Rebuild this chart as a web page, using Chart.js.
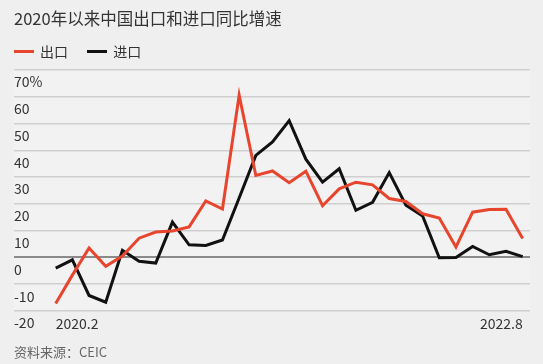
<!DOCTYPE html>
<html>
<head>
<meta charset="utf-8">
<script src="https://cdn.jsdelivr.net/npm/chart.js@4"></script>
<style>
  body { margin: 0; background: #efefef; font-family: "Noto Sans CJK SC", "Noto Sans", sans-serif; }
  #wrap { position: relative; width: 543px; height: 364px; overflow: hidden; }
  #title { position: absolute; left: 14px; top: 6px; font-size: 16.5px; color: #333; }
  #legend { position: absolute; left: 14px; top: 39px; font-size: 14px; color: #333; }
  #legend span { display: inline-block; vertical-align: middle; }
  .swatch { width: 20px; height: 3px; margin-right: 6px; }
  #source { position: absolute; left: 14px; top: 342px; font-size: 13px; color: #666; }
  canvas { position: absolute; left: 0; top: 0; }
</style>
</head>
<body>
<div id="wrap">
  <canvas id="myChart" width="543" height="364"></canvas>
  <div id="title">2020年以来中国出口和进口同比增速</div>
  <div id="legend">
    <span class="swatch" style="background:#e8452f"></span><span>出口</span>
    <span class="swatch" style="background:#111;margin-left:16px"></span><span>进口</span>
  </div>
  <div id="source">资料来源：CEIC</div>
</div>
<script>
// 2020.2 (1-2月合并) ... 2022.8
const months = ['2020.2','2020.3','2020.4','2020.5','2020.6','2020.7','2020.8','2020.9','2020.10','2020.11','2020.12',
                '2021.2','2021.3','2021.4','2021.5','2021.6','2021.7','2021.8','2021.9','2021.10','2021.11','2021.12',
                '2022.2','2022.3','2022.4','2022.5','2022.6','2022.7','2022.8'];
const exportGrowth = [-17.2, -6.6, 3.5, -3.3, 0.5, 7.2, 9.5, 9.9, 11.4, 21.1, 18.1,
                      60.6, 30.6, 32.3, 27.9, 32.2, 19.3, 25.6, 28.1, 27.1, 22.0, 20.9,
                      16.3, 14.7, 3.9, 16.9, 17.9, 18.0, 7.1];
const importGrowth = [-4.0, -0.9, -14.2, -16.7, 2.7, -1.4, -2.1, 13.2, 4.7, 4.5, 6.5,
                      22.2, 38.1, 43.1, 51.1, 36.7, 28.1, 33.1, 17.6, 20.6, 31.7, 19.5,
                      15.5, -0.1, 0.0, 4.1, 1.0, 2.3, 0.3];
const xTickLabels = ['2020.2', '2022.8'];

const plotBg = {
    id: 'plotBg',
    beforeDraw(chart) {
        const { ctx, chartArea } = chart;
        ctx.save();
        ctx.fillStyle = '#f2f2f2';
        ctx.fillRect(chartArea.left, chartArea.top, chartArea.right - chartArea.left, chartArea.bottom - chartArea.top);
        ctx.restore();
    }
};

const toPoints = arr => arr.map((v, i) => ({ x: i, y: v }));

const ctx = document.getElementById('myChart').getContext('2d');
const myChart = new Chart(ctx, {
    type: 'line',
    data: {
        datasets: [
            { label: '出口', data: toPoints(exportGrowth), borderColor: '#e8452f', borderWidth: 3, pointRadius: 0, tension: 0 },
            { label: '进口', data: toPoints(importGrowth), borderColor: '#111111', borderWidth: 3, pointRadius: 0, tension: 0 }
        ]
    },
    options: {
        responsive: false,
        animation: false,
        layout: { padding: { left: 14, right: 13, top: 70, bottom: 29 } },
        plugins: { legend: { display: false }, tooltip: { enabled: false } },
        scales: {
            x: {
                type: 'linear',
                min: -2.5,
                max: 28.44,
                afterBuildTicks: axis => { axis.ticks = [{ value: 0 }, { value: months.length - 1 }]; },
                afterFit: axis => { axis.height = 24; },
                ticks: {
                    align: 'inner',
                    maxRotation: 0,
                    padding: -4,
                    color: '#333',
                    font: { size: 14, family: '"Noto Sans CJK SC", "Noto Sans", sans-serif' },
                    callback: (v) => v === 0 ? xTickLabels[0] : xTickLabels[1]
                },
                grid: { display: false },
                border: { display: false }
            },
            y: {
                min: -20,
                max: 70,
                ticks: {
                    stepSize: 10,
                    mirror: true,
                    padding: 0,
                    labelOffset: 12,
                    color: '#333',
                    font: { size: 14, family: '"Noto Sans CJK SC", "Noto Sans", sans-serif' },
                    callback: v => v === 70 ? '70%' : v
                },
                grid: {
                    drawTicks: false,
                    color: ctx => ctx.tick && ctx.tick.value === 0 ? '#8a8a8a' : '#cfcfcf',
                    lineWidth: ctx => ctx.tick && ctx.tick.value === 0 ? 2 : 1.5
                },
                border: { display: false }
            }
        }
    },
    plugins: [plotBg]
});
</script>
</body>
</html>
